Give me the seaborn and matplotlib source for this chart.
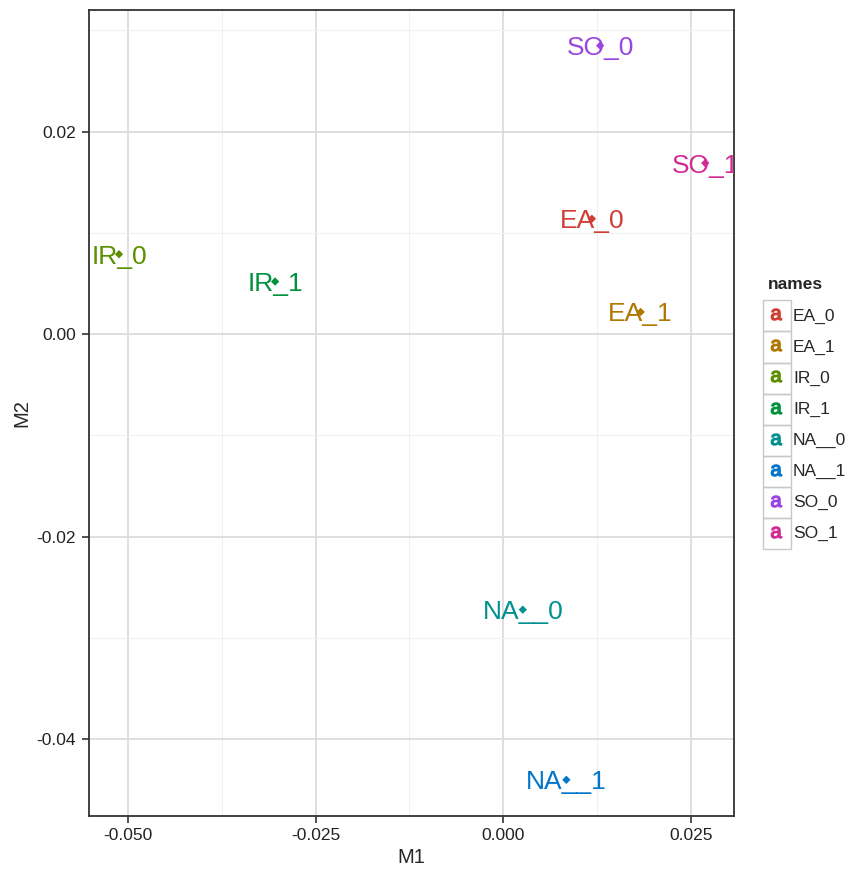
import matplotlib as mpl, numpy as np, pandas as pd
import matplotlib.pyplot as plt
from matplotlib.lines import Line2D
from matplotlib.patches import Rectangle
import seaborn as sns

sns.set_theme(style='white')
plt.rcParams['font.family'] = ['Liberation Sans', 'DejaVu Sans']
plt.rcParams['mathtext.default'] = 'regular'

# MDS coordinates
names = ['EA_0', 'EA_1', 'IR_0', 'IR_1', 'NA__0', 'NA__1', 'SO_0', 'SO_1']
m1 = [0.0118, 0.0183, -0.0512, -0.0304, 0.0026, 0.0084, 0.0129, 0.0269]
m2 = [0.0114, 0.0022, 0.0079, 0.0052, -0.0272, -0.0440, 0.0285, 0.0169]
colors = ['#cf3f36', '#b07800', '#5c8f00', '#00913f',
          '#00918f', '#0075c9', '#9b45e0', '#d12c95']
xticks = [-0.050, -0.025, 0.000, 0.025]
yticks = [-0.04, -0.02, 0.00, 0.02]

df = pd.DataFrame({'M1': m1, 'M2': m2, 'names': names})

fig = plt.figure(figsize=(8.5, 8.74), dpi=100)
ax = fig.add_axes([0.1044, 0.0664, 0.7591, 0.9222])

sns.scatterplot(data=df, x='M1', y='M2', hue='names', palette=colors,
                marker='D', s=18, linewidth=0, legend=False, ax=ax, zorder=3)
for x, y, n, c in zip(m1, m2, names, colors):
    ax.text(x, y, n, color=c, fontsize=19, ha='center', va='center_baseline',
            zorder=4, clip_on=True)

ax.set_xlim(-0.05523, 0.03073)
ax.set_ylim(-0.04757, 0.03202)
ax.set_xticks(xticks)
ax.set_xticklabels(['%.3f' % t for t in xticks])
ax.set_yticks(yticks)
ax.set_yticklabels(['%.2f' % t for t in yticks])
ax.set_xticks([-0.0375, -0.0125, 0.0125], minor=True)
ax.set_yticks([-0.03, -0.01, 0.01, 0.03], minor=True)
ax.grid(True, which='major', color='#dcdcdc', linewidth=1.3)
ax.grid(True, which='minor', color='#f0f0f0', linewidth=0.8)
ax.set_axisbelow(True)
ax.tick_params(axis='both', which='major', direction='out', length=5, width=1.2,
               color='#333333', labelsize=12.5, labelcolor='#222222', pad=4,
               left=True, bottom=True)
ax.tick_params(axis='both', which='minor', length=0)
for sp in ax.spines.values():
    sp.set_color('#333333')
    sp.set_linewidth(1.3)
ax.set_xlabel('M1', fontsize=14.5, labelpad=3)
ax.set_ylabel('M2', fontsize=14.5, labelpad=4)

# legend with "a" keys, ggplot-style
handles = [Line2D([], [], marker='$a$', linestyle='', color=c, markersize=8)
           for c in colors]
leg = fig.legend(handles, names, title='names', loc='upper left',
                 bbox_to_anchor=(0.891, 0.6945), frameon=False,
                 fontsize=12.5, title_fontsize=12.5, labelspacing=0.91,
                 handlelength=1.0, handletextpad=0.45, borderpad=0.1)
leg.get_title().set_fontweight('bold')
leg._legend_box.align = 'left'

# key boxes around each legend row
fig.canvas.draw()
W, H = fig.canvas.get_width_height()
kh = 31.1
for t in leg.get_texts():
    bb = t.get_window_extent()
    yc = (bb.y0 + bb.y1) / 2
    fig.add_artist(Rectangle((763 / W, (yc - kh / 2) / H), 28 / W, kh / H,
                             transform=fig.transFigure, fill=False,
                             edgecolor='#c8c8c8', linewidth=1.0))

fig.savefig('out.png', dpi=100)
